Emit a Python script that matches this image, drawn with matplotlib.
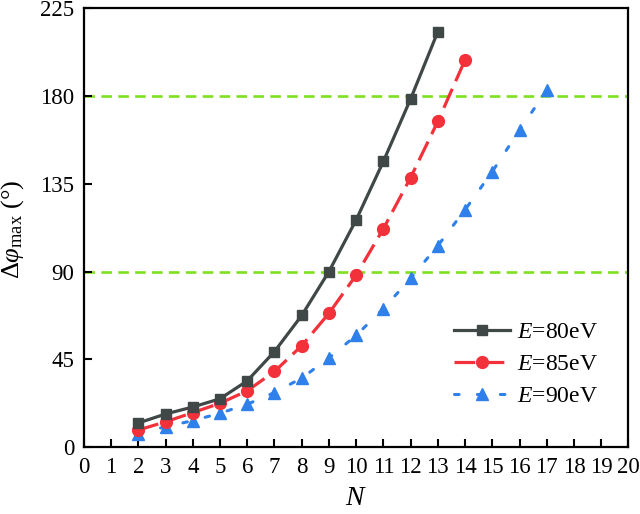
import matplotlib
matplotlib.use("Agg")
import matplotlib.pyplot as plt

plt.rcParams["font.family"] = ["Liberation Serif", "DejaVu Serif"]
plt.rcParams["mathtext.fontset"] = "custom"
plt.rcParams["mathtext.rm"] = "Liberation Serif"
plt.rcParams["mathtext.it"] = "Liberation Serif:italic"

# data
n_80 = [2, 3, 4, 5, 6, 7, 8, 9, 10, 11, 12, 13]
phi_80 = [12.4, 17.0, 20.6, 24.8, 34.0, 49.0, 67.5, 90.0, 116.5, 146.5, 178.5, 213.0]

n_85 = [2, 3, 4, 5, 6, 7, 8, 9, 10, 11, 12, 13, 14]
phi_85 = [8.8, 13.0, 17.7, 22.5, 28.9, 38.8, 52.0, 68.6, 88.2, 112.0, 138.2, 167.0, 198.5]

n_90 = [2, 3, 4, 5, 6, 7, 8, 9, 10, 11, 12, 13, 14, 15, 16, 17]
phi_90 = [7.0, 10.5, 13.6, 17.4, 22.0, 28.0, 35.4, 45.7, 57.3, 71.0, 86.5,
          103.3, 121.7, 141.3, 162.5, 183.0]

ref_levels = [180, 90]
x_ticks = list(range(0, 21))
y_ticks = [0, 45, 90, 135, 180, 225]

fig = plt.figure(figsize=(6.4, 5.14), dpi=100)
ax = fig.add_axes([0.131, 0.130, 0.851, 0.854])

for level in ref_levels:
    ax.axhline(level, color="#7ee01e", lw=1.9, ls=(0, (4, 2.4)), zorder=1)

ax.plot(n_80, phi_80, color="#3f4747", lw=2.3, marker="s", ms=7,
        label="$E$=80eV", zorder=4)
ax.plot(n_85, phi_85, color="#f2313a", lw=2.3, ls=(0, (6.5, 2.6)), marker="o",
        ms=8.5, label="$E$=85eV", zorder=3)
ax.plot(n_90, phi_90, color="#2f80ea", lw=2.2, ls=(0, (1.5, 6)),
        dash_capstyle="round", marker="^", ms=8.5, label="$E$=90eV", zorder=2)

ax.set_xlim(0, 20)
ax.set_ylim(0, 225)
ax.set_xticks(x_ticks)
ax.set_yticks(y_ticks)
ax.tick_params(direction="in", length=6, width=1.5, labelsize=16.5, pad=7)
for side in ["left", "bottom", "right", "top"]:
    ax.spines[side].set_linewidth(1.6)

ax.set_xlabel("$N$", fontsize=20, labelpad=6)
ax.set_ylabel(r"$\Delta\varphi_{\rm max}$ (°)", fontsize=19)
ax.yaxis.set_label_coords(-0.106, 0.497)

ax.legend(loc="upper left", bbox_to_anchor=(0.64, 0.335), frameon=False,
          fontsize=17, handlelength=2.4, handletextpad=0.3, labelspacing=0.45)

fig.savefig("out.png", dpi=100)
